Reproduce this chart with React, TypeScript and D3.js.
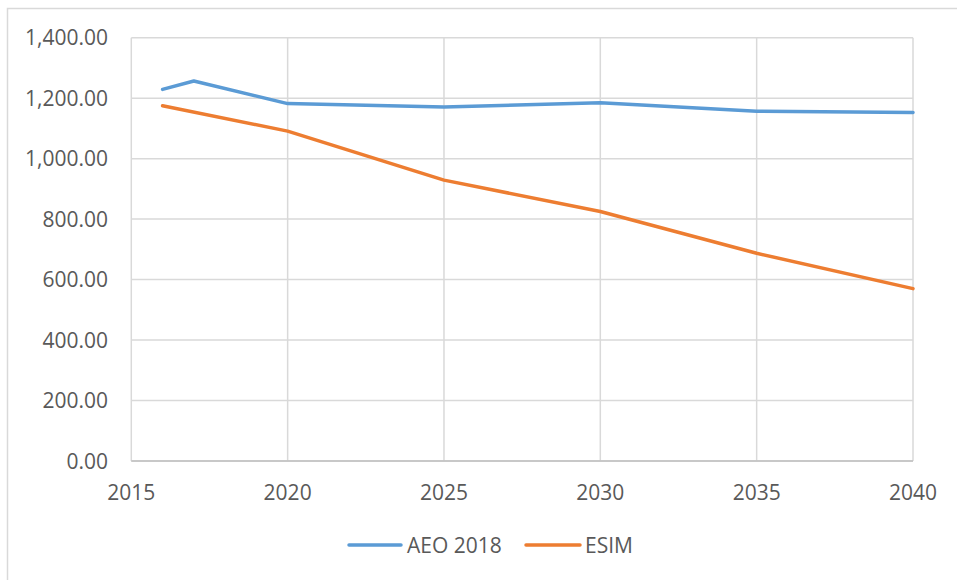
import React from "react";
import * as d3 from "d3";

const years = [2016, 2017, 2020, 2025, 2030, 2035, 2040];
const aeo2018 = [1229, 1257, 1182, 1171, 1185, 1157, 1153];
const esimYears = [2016, 2020, 2025, 2030, 2035, 2040];
const esim = [1175, 1091, 929, 825, 687, 570];
const xTicks = [2015, 2020, 2025, 2030, 2035, 2040];
const yTicks = [0, 200, 400, 600, 800, 1000, 1200, 1400];
const seriesNames = ["AEO 2018", "ESIM"];
const seriesColors = ["#5B9BD5", "#ED7D31"];

const W = 957;
const H = 580;
const FONT = "'Open Sans', 'Noto Sans', sans-serif";
const FS = 21;

export default function App() {
  const x = d3.scaleLinear().domain([2015, 2040]).range([131.3, 913]);
  const y = d3.scaleLinear().domain([0, 1400]).range([461, 37.7]);
  const line = d3
    .line<[number, number]>()
    .x((d) => x(d[0]))
    .y((d) => y(d[1]));

  const aeoPts: [number, number][] = years.map((yr, i) => [yr, aeo2018[i]]);
  const esimPts: [number, number][] = esimYears.map((yr, i) => [yr, esim[i]]);
  const fmt = d3.format(",.2f");

  const legend = [
    { name: seriesNames[0], color: seriesColors[0], x0: 349, x1: 401, tx: 407 },
    { name: seriesNames[1], color: seriesColors[1], x0: 526, x1: 580, tx: 585 },
  ];

  return (
    <svg
      width={W}
      height={H}
      style={{ position: "absolute", left: 0, top: 0, background: "#fff" }}
    >
      <rect x={7.5} y={8.5} width={W + 10} height={H + 10} fill="#fff" stroke="#D9D9D9" strokeWidth={1.5} />
      {/* horizontal gridlines */}
      {yTicks.map((t) => (
        <line key={"h" + t} x1={x(2015)} x2={x(2040)} y1={y(t)} y2={y(t)} stroke="#D9D9D9" strokeWidth={1.5} />
      ))}
      {/* vertical gridlines */}
      {xTicks.map((t) => (
        <line key={"v" + t} x1={x(t)} x2={x(t)} y1={y(1400)} y2={y(0)} stroke="#D9D9D9" strokeWidth={1.5} />
      ))}
      <line x1={x(2015)} x2={x(2040)} y1={y(0)} y2={y(0)} stroke="#BFBFBF" strokeWidth={1.5} />
      {/* y labels */}
      {yTicks.map((t) => (
        <text
          key={"yl" + t}
          x={108}
          y={y(t)}
          dy="0.36em"
          textAnchor="end"
          fontFamily={FONT}
          fontSize={FS}
          fill="#595959"
        >
          {fmt(t)}
        </text>
      ))}
      {/* x labels */}
      {xTicks.map((t) => (
        <text
          key={"xl" + t}
          x={x(t)}
          y={500}
          textAnchor="middle"
          fontFamily={FONT}
          fontSize={FS}
          fill="#595959"
        >
          {t}
        </text>
      ))}
      <path d={line(aeoPts) || ""} fill="none" stroke={seriesColors[0]} strokeWidth={3.5} strokeLinejoin="round" strokeLinecap="round" />
      <path d={line(esimPts) || ""} fill="none" stroke={seriesColors[1]} strokeWidth={3.5} strokeLinejoin="round" strokeLinecap="round" />
      {legend.map((l) => (
        <g key={l.name}>
          <line x1={l.x0} x2={l.x1} y1={545} y2={545} stroke={l.color} strokeWidth={3.5} strokeLinecap="round" />
          <text x={l.tx} y={545} dy="0.36em" fontFamily={FONT} fontSize={FS} fill="#595959">
            {l.name}
          </text>
        </g>
      ))}
    </svg>
  );
}
